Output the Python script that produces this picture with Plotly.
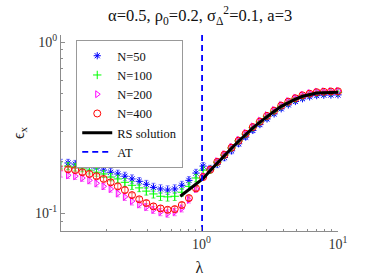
import plotly.graph_objects as go

lam = [0.0935, 0.1054, 0.1189, 0.1340, 0.1510, 0.1702, 0.1919, 0.2163, 0.2438, 0.2748,
       0.3097, 0.3499, 0.3945, 0.4446, 0.5012, 0.5649, 0.6368, 0.7178, 0.8091, 0.9120,
       1.028, 1.159, 1.306, 1.472, 1.660, 1.871, 2.109, 2.377, 2.679, 3.020,
       3.404, 3.837, 4.325, 4.875, 5.495, 6.194, 6.982, 7.870, 8.872, 10.0]

eps_n50 = [0.197, 0.197, 0.194, 0.191, 0.189, 0.184, 0.179, 0.174, 0.170, 0.165,
           0.159, 0.154, 0.148, 0.142, 0.139, 0.137, 0.139, 0.146, 0.156, 0.172,
           0.189, 0.182, 0.194, 0.212, 0.232, 0.255, 0.279, 0.305, 0.330, 0.356,
           0.381, 0.408, 0.430, 0.450, 0.467, 0.479, 0.487, 0.490, 0.491, 0.492]
eps_n100 = [0.191, 0.189, 0.186, 0.184, 0.179, 0.174, 0.170, 0.163, 0.159, 0.152,
            0.146, 0.141, 0.135, 0.130, 0.126, 0.125, 0.126, 0.133, 0.144, 0.161,
            0.179, 0.180, 0.199, 0.219, 0.241, 0.265, 0.290, 0.317, 0.342, 0.369,
            0.395, 0.423, 0.445, 0.466, 0.484, 0.496, 0.505, 0.508, 0.509, 0.510]
eps_n200 = [0.170, 0.167, 0.165, 0.161, 0.156, 0.150, 0.144, 0.139, 0.131, 0.125,
            0.118, 0.113, 0.109, 0.105, 0.102, 0.100, 0.102, 0.107, 0.120, 0.139,
            0.165, 0.181, 0.202, 0.222, 0.245, 0.269, 0.295, 0.322, 0.348, 0.375,
            0.402, 0.430, 0.453, 0.474, 0.492, 0.504, 0.514, 0.516, 0.517, 0.519]
eps_n400 = [0.184, 0.181, 0.179, 0.174, 0.170, 0.165, 0.159, 0.152, 0.144, 0.137,
            0.128, 0.121, 0.115, 0.110, 0.107, 0.105, 0.106, 0.112, 0.123, 0.140,
            0.163, 0.180, 0.200, 0.220, 0.242, 0.266, 0.292, 0.319, 0.344, 0.371,
            0.398, 0.426, 0.449, 0.470, 0.489, 0.500, 0.510, 0.513, 0.515, 0.516]

err_n50 = [0.010, 0.010, 0.010, 0.010, 0.010, 0.010, 0.009, 0.009, 0.009, 0.009,
           0.009, 0.008, 0.008, 0.008, 0.008, 0.008, 0.008, 0.008, 0.008, 0.009,
           0.009, 0.009, 0.009, 0.009, 0.009, 0.009, 0.009, 0.009, 0.009, 0.009,
           0.009, 0.009, 0.009, 0.009, 0.009, 0.009, 0.009, 0.009, 0.009, 0.009]
err_n100 = [0.009, 0.009, 0.009, 0.009, 0.009, 0.009, 0.008, 0.008, 0.008, 0.008,
            0.008, 0.007, 0.007, 0.007, 0.007, 0.007, 0.007, 0.007, 0.007, 0.008,
            0.008, 0.008, 0.008, 0.008, 0.008, 0.008, 0.008, 0.008, 0.008, 0.008,
            0.008, 0.008, 0.008, 0.008, 0.008, 0.008, 0.008, 0.008, 0.008, 0.008]
err_n200 = [0.007, 0.007, 0.007, 0.007, 0.007, 0.007, 0.006, 0.006, 0.006, 0.006,
            0.006, 0.005, 0.005, 0.005, 0.005, 0.005, 0.005, 0.005, 0.005, 0.006,
            0.006, 0.006, 0.006, 0.006, 0.006, 0.006, 0.006, 0.006, 0.006, 0.006,
            0.006, 0.006, 0.006, 0.006, 0.006, 0.006, 0.006, 0.006, 0.006, 0.006]
err_n400 = [0.005, 0.005, 0.005, 0.005, 0.005, 0.005, 0.005, 0.005, 0.005, 0.005,
            0.004, 0.004, 0.004, 0.004, 0.004, 0.004, 0.004, 0.004, 0.004, 0.004,
            0.004, 0.004, 0.004, 0.004, 0.004, 0.004, 0.004, 0.004, 0.004, 0.004,
            0.004, 0.004, 0.004, 0.004, 0.004, 0.004, 0.004, 0.004, 0.004, 0.004]

rs_lam = [0.70, 0.80, 0.91, 1.03, 1.16, 1.31, 1.47, 1.66, 1.87, 2.11, 2.38, 2.68,
          3.02, 3.40, 3.84, 4.33, 4.88, 5.50, 6.19, 6.98, 7.87, 8.87, 10.0]
rs_eps = [0.126, 0.137, 0.147, 0.160, 0.178, 0.198, 0.218, 0.240, 0.264, 0.289, 0.316, 0.341,
          0.368, 0.394, 0.422, 0.444, 0.465, 0.483, 0.494, 0.504, 0.506, 0.507, 0.509]

at_lam = 1.01
y_lo, y_hi = 0.079, 1.1

FONT = "Liberation Serif"

series = [
    ("N=50", eps_n50, err_n50, "rgb(0,0,255)", "rgba(90,90,255,0.75)", "asterisk-open", 6),
    ("N=100", eps_n100, err_n100, "rgb(0,255,0)", "rgba(60,230,60,0.8)", "cross-thin-open", 6),
    ("N=200", eps_n200, err_n200, "rgb(255,0,255)", "rgba(240,80,240,0.75)", "triangle-right-open", 6),
    ("N=400", eps_n400, err_n400, "rgb(255,0,0)", "rgba(250,60,60,0.8)", "circle-open", 7),
]

fig = go.Figure()
for name, ys, es, col, ecol, sym, sz in series:
    fig.add_trace(go.Scatter(
        x=lam, y=ys, mode="markers", name=name, cliponaxis=False,
        marker=dict(symbol=sym, size=sz, color=col, line=dict(color=col, width=1)),
        error_y=dict(type="data", array=es, color=ecol, thickness=1, width=2),
    ))

fig.add_trace(go.Scatter(x=rs_lam, y=rs_eps, mode="lines", name="RS solution",
                         line=dict(color="black", width=3)))
fig.add_trace(go.Scatter(x=[at_lam, at_lam], y=[y_lo, y_hi], mode="lines", name="AT",
                         line=dict(color="rgb(0,0,255)", width=1.8, dash="6px,4px")))

def minor_vals(decades):
    out = []
    for d in decades:
        for k in range(2, 10):
            out.append(k * 10 ** d)
    return out

axis_common = dict(
    type="log", showgrid=False, zeroline=False, showline=True, linecolor="#8c8c8c",
    linewidth=1, ticks="inside", ticklen=4, tickcolor="#8c8c8c", mirror=False,
    automargin=False,
    tickfont=dict(family=FONT, size=14, color="#333"),
)

fig.update_xaxes(
    **axis_common, range=[-1.029, 1.0],
    tickmode="array", tickvals=[1, 10], ticktext=["10<sup>0</sup>", "10<sup>1</sup>"],
    minor=dict(tickmode="array", tickvals=minor_vals([-2, -1, 0]), ticks="inside",
               ticklen=2, tickcolor="#8c8c8c"),
    title=dict(text="λ", font=dict(family=FONT, size=16, color="#222"), standoff=11),
)
fig.update_yaxes(
    **axis_common, range=[-1.1024, 0.0414],
    tickmode="array", tickvals=[0.1, 1], ticktext=["10<sup>-1</sup>", "10<sup>0</sup>"],
    minor=dict(tickmode="array", tickvals=minor_vals([-2, -1]), ticks="inside",
               ticklen=2, tickcolor="#8c8c8c"),
    title=dict(text="ϵ<sub>x</sub>", font=dict(family=FONT, size=16, color="#222"), standoff=6),
)

fig.update_layout(
    width=374, height=280,
    font=dict(family=FONT),
    margin=dict(l=61, r=36, t=35, b=49, autoexpand=False),
    paper_bgcolor="white", plot_bgcolor="white",
    title=dict(text="α=0.5, ρ<sub>0</sub>=0.2, σ<sub>Δ</sub><sup>2</sup>=0.1, a=3",
               x=0.535, xanchor="center", y=0.945, yanchor="middle",
               font=dict(family=FONT, size=16.5, color="#111")),
    legend=dict(x=0.055, y=0.974, xanchor="left", yanchor="top",
                bgcolor="white", bordercolor="#999", borderwidth=1,
                font=dict(family=FONT, size=12.5, color="#111"),
                tracegroupgap=0, itemwidth=30),
    showlegend=True,
)

fig.write_html("out.html", config={"displayModeBar": False},
               post_script="document.body.style.margin='0';")
